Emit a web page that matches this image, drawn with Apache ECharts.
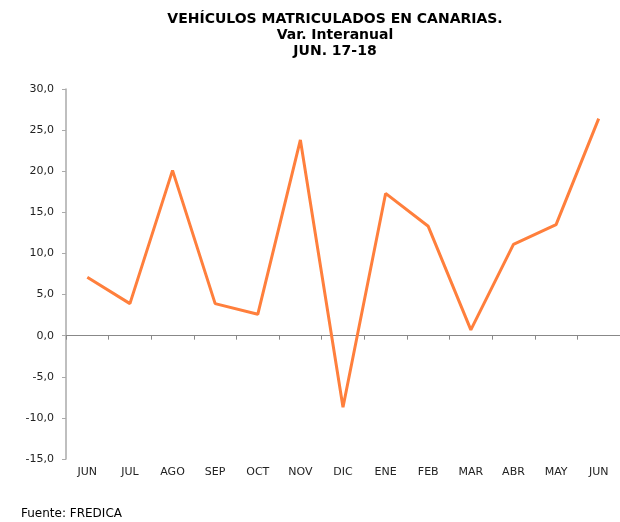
<!DOCTYPE html>
<html>
<head>
<meta charset="utf-8">
<script src="https://cdn.jsdelivr.net/npm/echarts@6/dist/echarts.min.js"></script>
<style>
  html, body { margin: 0; padding: 0; background: #fff; }
  #chart { width: 620px; height: 522px; }
</style>
</head>
<body>
<div id="chart"></div>
<script>
// meses jun 17 - jun 18
const months = ["JUN", "JUL", "AGO", "SEP", "OCT", "NOV", "DIC", "ENE", "FEB", "MAR", "ABR", "MAY", "JUN"];
// variación interanual (%)
const varInteranual = [7.1, 3.9, 20.1, 3.9, 2.6, 23.8, -8.7, 17.3, 13.3, 0.7, 11.1, 13.5, 26.4];

const font = "DejaVu Sans, Verdana, sans-serif";

const chart = echarts.init(document.getElementById("chart"));

const options = {
  animation: false,
  title: {
    text: "VEHÍCULOS MATRICULADOS EN CANARIAS.\nVar. Interanual\nJUN. 17-18",
    left: 330,
    top: 6,
    textAlign: "center",
    textStyle: {
      fontFamily: font,
      fontSize: 14,
      fontWeight: "bold",
      color: "#000",
      lineHeight: 16,
    },
  },
  graphic: [
    {
      type: "text",
      left: 21,
      top: 508,
      style: { text: "Fuente: FREDICA", font: "12px " + font, fill: "#000" },
    },
  ],
  grid: {
    left: 66,
    right: 0,
    top: 89,
    bottom: 63,
  },
  xAxis: [
    {
      // eje en el cero, solo linea y marcas
      type: "category",
      data: months,
      boundaryGap: true,
      axisLine: { onZero: true, lineStyle: { color: "#888", width: 1 } },
      axisTick: { show: true, length: 4, lineStyle: { color: "#888" } },
      axisLabel: { show: false },
    },
    {
      // etiquetas abajo
      type: "category",
      data: months,
      position: "bottom",
      boundaryGap: true,
      axisLine: { show: false, onZero: false },
      axisTick: { show: false },
      axisLabel: {
        margin: 8,
        fontFamily: font,
        fontSize: 11,
        color: "#222",
      },
    },
  ],
  yAxis: {
    type: "value",
    min: -15,
    max: 30,
    interval: 5,
    splitLine: { show: false },
    axisLine: { show: true, lineStyle: { color: "#aaa", width: 1.5 } },
    axisTick: { show: true, length: 4, lineStyle: { color: "#aaa" } },
    axisLabel: {
      margin: 12,
      fontFamily: font,
      fontSize: 11,
      color: "#222",
      formatter: (v) => v.toFixed(1).replace(".", ","),
    },
  },
  series: [
    {
      type: "line",
      data: varInteranual,
      xAxisIndex: 0,
      showSymbol: false,
      symbol: "none",
      lineStyle: { color: "#FF7F3C", width: 3 },
    },
  ],
};

chart.setOption(options);
</script>
</body>
</html>
